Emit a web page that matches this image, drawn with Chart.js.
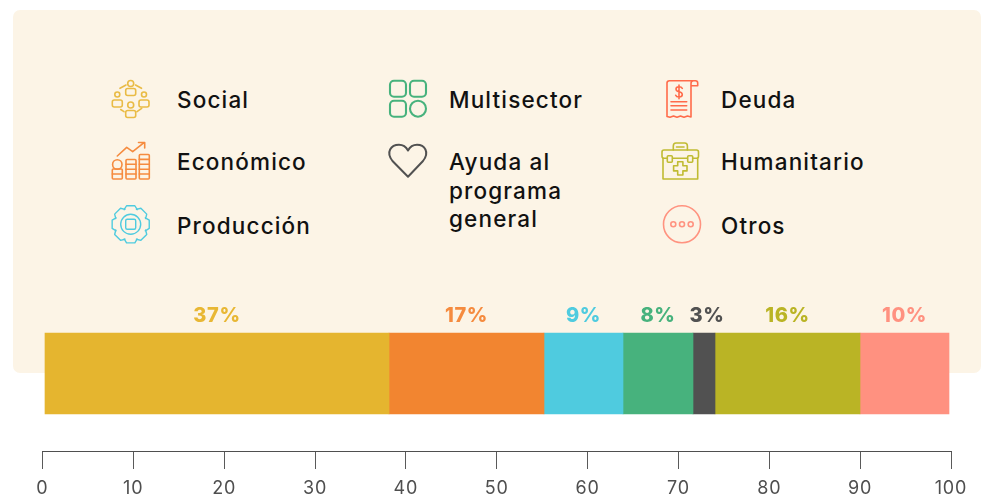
<!DOCTYPE html>
<html lang="es">
<head>
<meta charset="utf-8">
<title>Chart</title>
<script src="https://cdn.jsdelivr.net/npm/chart.js@4"></script>
<style>
html,body{margin:0;padding:0;background:#fff;width:981px;height:497px;overflow:hidden}
#panel{position:absolute;left:13px;top:10px;width:968px;height:363px;background:#fcf4e6;border-radius:7px}
#c{position:absolute;left:0;top:0}
#legend{position:absolute;left:0;top:0}
#legend text{font-family:Inter,"Noto Sans",sans-serif;font-weight:500;font-size:22.5px;letter-spacing:1.15px;fill:#111}
#legend .i{fill:none;stroke-width:1.6;stroke-linecap:round;stroke-linejoin:round}
</style>
</head>
<body>
<div id="panel"></div>
<svg id="legend" width="981" height="497" xmlns="http://www.w3.org/2000/svg">
  <g class="i" stroke="#e9bb45">
    <circle cx="130.7" cy="83.5" r="3"/><rect x="125.7" y="88.5" width="10" height="7" rx="2"/>
    <circle cx="117.3" cy="94.5" r="2.5"/><rect x="112.3" y="100" width="10" height="7" rx="2"/>
    <circle cx="144" cy="94.5" r="2.5"/><rect x="139" y="100" width="10" height="7" rx="2"/>
    <circle cx="130.7" cy="105" r="3"/><rect x="125.7" y="110.5" width="10" height="7" rx="2"/>
    <path d="M120 88.3L126 85M135.5 85L141.5 88.3M120.7 109.5L124 111.7M137 111.7L141.7 108.3"/>
  </g>
  <g class="i" stroke="#f58b3f">
    <path d="M117.3 156L126.7 147.3L132.7 151.7L144 142.7M138.5 142.5H144.7V148"/>
    <circle cx="117.3" cy="164.5" r="4.7"/>
    <rect x="112.3" y="169" width="10" height="10" rx="1"/><path d="M112.3 174H122.3"/>
    <rect x="126" y="159.5" width="10" height="19.5" rx="1"/><path d="M126 164.3H136M126 169.2H136M126 174H136"/>
    <rect x="139.3" y="154.5" width="10" height="24.5" rx="1"/><path d="M139.3 159.4H149.3M139.3 164.3H149.3M139.3 169.2H149.3M139.3 174H149.3"/>
  </g>
  <g class="i" stroke="#4fcbdf" style="stroke-width:1.4">
    <path id="gear"/>
    <circle cx="130.7" cy="224.3" r="10"/>
    <rect x="125.7" y="219.3" width="10" height="10" rx="1.5"/>
  </g>
  <g class="i" stroke="#47b27d" style="stroke-width:2.1">
    <rect x="390" y="80.7" width="16" height="16" rx="4"/>
    <rect x="410" y="80.7" width="16" height="16" rx="4"/>
    <rect x="390" y="100.7" width="16" height="16" rx="4"/>
    <circle cx="418" cy="108.7" r="8"/>
  </g>
  <g class="i" stroke="#515151" style="stroke-width:2">
    <path d="M408 176.7L392.5 161C385.5 152 391 144.7 399 144.7C403 144.7 406 146.7 408 150.5C410 146.7 413 144.7 417 144.7C424.5 144.7 430 152 423 161Z"/>
  </g>
  <g class="i" stroke="#ff6b4a">
    <path d="M691 86V117L687.5 116L684 117.3L680.5 116L677 117.3L673.5 116L670 117.3L667 116.5V83Q667 80.7 669.5 80.7H695.5Q697.7 80.7 697.7 83V85.7H691V83.5Q691 80.7 693.5 80.7"/>
    <path d="M671 101.7H686.7M671 105.7H686.7M671 110H686.7"/>
    <path d="M682.3 88.3Q681.5 86.7 679 86.7Q676 86.7 676 89Q676 91 679 91.7Q682.3 92.4 682.3 94.6Q682.3 97 679 97Q676.3 97 675.7 95.2M679 85V98.7"/>
  </g>
  <g class="i" stroke="#c0bb32">
    <rect x="662" y="150" width="36.5" height="8.3" rx="2"/>
    <path d="M663 158.3V179H697.7V158.3"/>
    <path d="M673.3 150V146Q673.3 143 676 143H684.7Q687.4 143 687.4 146V150M676.5 147H684"/>
    <rect x="667.3" y="155.7" width="5" height="6.6" rx="1" fill="#fcf4e6"/>
    <rect x="687.7" y="155.7" width="5" height="6.6" rx="1" fill="#fcf4e6"/>
    <path d="M677.7 161.7H682.9V165.7H687V170.9H682.9V175H677.7V170.9H673.6V165.7H677.7Z"/>
  </g>
  <g class="i" stroke="#ff9380">
    <circle cx="682" cy="224.3" r="18.5"/>
    <circle cx="673.3" cy="224.3" r="2.5"/><circle cx="682" cy="224.3" r="2.5"/><circle cx="690.7" cy="224.3" r="2.5"/>
  </g>
</svg>
<canvas id="c" width="981" height="497"></canvas>
<script>
const legendColumns = [
  [["Social"], ["Económico"], ["Producción"]],
  [["Multisector"], ["Ayuda al", "programa", "general"]],
  [["Deuda"], ["Humanitario"], ["Otros"]]
];
const categories = ["Social", "Económico", "Producción", "Multisector", "Ayuda al programa general", "Humanitario", "Otros"];
const barValues = [37.865, 17.061, 8.696, 7.705, 2.422, 15.960, 9.796];
const barLabels = ["37%", "17%", "9%", "8%", "3%", "16%", "10%"];
const barColors = ["#e5b52f", "#f28530", "#4fcbdf", "#47b27d", "#515151", "#bab425", "#ff9180"];
const labelColors = ["#e8b734", "#f58b3f", "#4fcbdf", "#47b27d", "#515151", "#bab425", "#ff9180"];
const barLeadIn = 0.275;
const axisTicks = [0, 10, 20, 30, 40, 50, 60, 70, 80, 90, 100];

// legend text
const svg = document.getElementById("legend");
const colX = [177, 449, 721];
const rowBase = [108, 170, 234];
legendColumns.forEach((col, ci) => col.forEach((lines, ri) => {
  lines.forEach((line, li) => {
    const t = document.createElementNS("http://www.w3.org/2000/svg", "text");
    t.setAttribute("x", colX[ci]);
    t.setAttribute("y", rowBase[ri] + li * 28.5);
    t.textContent = line;
    svg.appendChild(t);
  });
}));

// gear outline
(function () {
  const cx = 130.7, cy = 224.3, R = 19, r = 16, n = 8;
  let d = "";
  for (let i = 0; i < n; i++) {
    const a = i * 2 * Math.PI / n;
    const pts = [[a - 0.42, r], [a - 0.22, R], [a + 0.22, R], [a + 0.42, r]];
    pts.forEach((p, k) => {
      const x = cx + p[1] * Math.sin(p[0]), y = cy - p[1] * Math.cos(p[0]);
      d += (i === 0 && k === 0 ? "M" : "L") + x.toFixed(2) + " " + y.toFixed(2);
    });
  }
  document.getElementById("gear").setAttribute("d", d + "Z");
})();

const labelPlugin = {
  id: "segmentLabels",
  beforeDraw(chart) { chart.ctx.letterSpacing = "0.9px"; },
  afterDatasetsDraw(chart) {
    const ctx = chart.ctx;
    ctx.save();
    ctx.letterSpacing = "0.6px";
    ctx.font = '800 20px Inter, "Noto Sans", sans-serif';
    ctx.textAlign = "center";
    ctx.textBaseline = "alphabetic";
    chart.data.datasets.forEach((ds, i) => {
      if (ds.segment === undefined) return;
      const el = chart.getDatasetMeta(i).data[0];
      ctx.fillStyle = labelColors[ds.segment];
      const nudge = barLabels[ds.segment] === "3%" ? 3 : 0;
      ctx.fillText(barLabels[ds.segment], (el.base + el.x) / 2 + nudge, el.y - 40.5 - 11);
    });
    ctx.restore();
  }
};

const datasets = [{ label: "", data: [barLeadIn], backgroundColor: "rgba(0,0,0,0)", barThickness: 81 }];
categories.forEach((name, i) => datasets.push({
  label: name, data: [barValues[i]], backgroundColor: barColors[i], barThickness: 81, segment: i
}));

new Chart(document.getElementById("c"), {
  type: "bar",
  data: { labels: [""], datasets },
  plugins: [labelPlugin],
  options: {
    indexAxis: "y",
    responsive: false,
    animation: false,
    layout: { padding: { left: 42.5, right: 30, top: 296, bottom: 0 } },
    plugins: { legend: { display: false }, tooltip: { enabled: false } },
    scales: {
      y: { stacked: true, display: false },
      x: {
        stacked: true, min: 0, max: 100,
        afterBuildTicks(s) { s.ticks = axisTicks.map(v => ({ value: v })); },
        afterFit(s) { s.height = 46; },
        border: { display: true, color: "#4f4f4f", width: 1 },
        grid: { drawOnChartArea: false, drawTicks: true, tickLength: 18, color: "#5a5a5a", tickWidth: 1 },
        ticks: { maxRotation: 0, autoSkip: false, padding: 9, color: "#4f4f4f", font: { family: 'Inter, "Noto Sans", sans-serif', size: 18, weight: "400" } }
      }
    }
  }
});
</script>
</body>
</html>
